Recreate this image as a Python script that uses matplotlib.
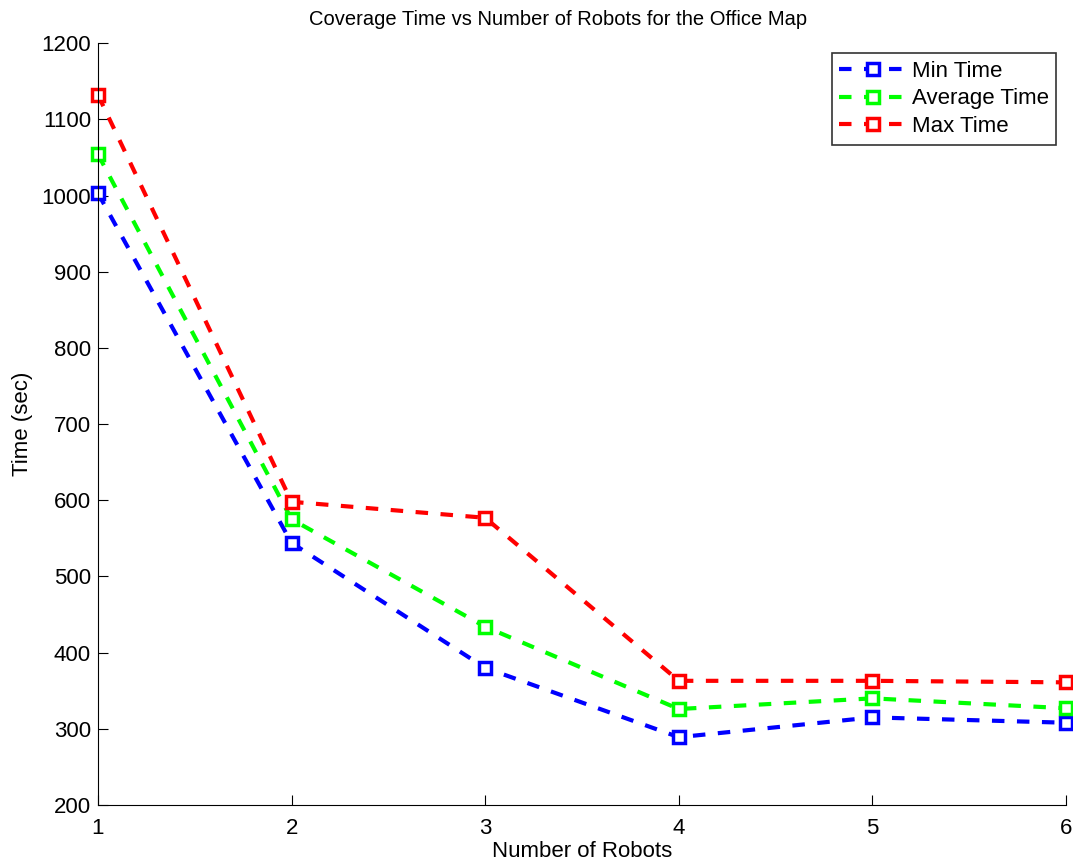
import matplotlib
matplotlib.use('Agg')
import matplotlib.pyplot as plt

plt.rcParams['font.family'] = ['Liberation Sans', 'DejaVu Sans']

robots = [1, 2, 3, 4, 5, 6]
min_time = [1003, 544, 380, 289, 315, 308]
avg_time = [1054, 575, 434, 326, 340, 327]
max_time = [1132, 598, 577, 363, 363, 361]

fig = plt.figure(figsize=(10.73, 8.63), dpi=100)
ax = fig.add_axes([0.0913, 0.0672, 0.9022, 0.8828])

series = [(min_time, '#0000ff', 'Min Time'),
          (avg_time, '#00ff00', 'Average Time'),
          (max_time, '#ff0000', 'Max Time')]
for vals, col, name in series:
    ax.plot(robots, vals, color=col, linestyle=(0, (3, 3)), linewidth=3,
            marker='s', markersize=9, markerfacecolor='white',
            markeredgecolor=col, markeredgewidth=2.5, label=name, clip_on=False)

ax.set_xlim(1, 6)
ax.set_ylim(200, 1200)
ax.set_xticks(robots)
ax.set_yticks(range(200, 1201, 100))
ax.spines['top'].set_visible(False)
ax.spines['right'].set_visible(False)
ax.tick_params(direction='in', length=7, labelsize=16)
ax.tick_params(axis='x', pad=9)
ax.tick_params(axis='y', pad=5)

# title sits a little left of the axes centre in the original
ax.set_title('Coverage Time vs Number of Robots for the Office Map',
             fontsize=14.5, pad=13, x=0.475)
ax.set_xlabel('Number of Robots', fontsize=16, labelpad=2)
ax.set_ylabel('Time (sec)', fontsize=16, labelpad=6)

leg = ax.legend(loc='upper right', bbox_to_anchor=(0.99, 0.987), fontsize=16,
                fancybox=False, frameon=True, edgecolor='black',
                handlelength=3.0, handletextpad=0.25, borderpad=0.35,
                labelspacing=0.3, borderaxespad=0)
leg.get_frame().set_linewidth(1.2)

fig.savefig('out.png', dpi=100)
